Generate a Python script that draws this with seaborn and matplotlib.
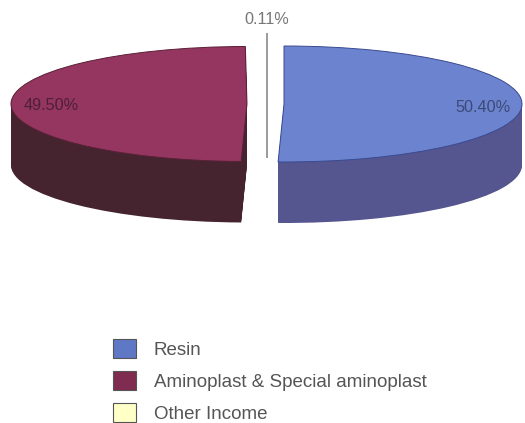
import matplotlib
matplotlib.use("Agg")
import matplotlib.pyplot as plt
from matplotlib.patches import Patch
import seaborn as sns

categories = ["Resin", "Aminoplast & Special aminoplast", "Other Income"]
shares = [50.40, 49.50, 0.11]
share_labels = ["50.40%", "49.50%", "0.11%"]
top_colors = ["#6c84cf", "#94365f"]
rim_colors = ["#3a4a90", "#5a2038"]
side_colors = ["#55558f", "#45242f"]
legend_colors = ["#5f78c6", "#7f2c50", "#ffffc8"]

sns.set_theme(style="white")
plt.rcParams["font.family"] = ["Liberation Sans", "DejaVu Sans"]

WIDTH, HEIGHT = 525, 423
SQUASH = 58 / 238         # vertical foreshortening of the tilted disc
DEPTH = 61                # wall height in pixels
CENTER_Y = 104
CENTERS_X = [284, 247]    # the two large slices are pulled apart
RADII = [238, 236]


def to_y(py):
    """Pixel row to the stretched data scale used by the disc."""
    return (HEIGHT - py) / SQUASH


fig = plt.figure(figsize=(WIDTH / 100, HEIGHT / 100), dpi=100)
ax = fig.add_axes([0, 0, 1, 1])

total = sum(shares)
start = 90.0
for value, cx, radius, top, rim, side in zip(
    shares[:2], CENTERS_X, RADII, top_colors, rim_colors, side_colors
):
    fraction = value / total
    # Wall: the slice repeated pixel by pixel downwards
    for d in range(DEPTH, 0, -1):
        ax.pie([fraction], normalize=False, colors=[side], startangle=start,
               counterclock=False, radius=radius, frame=True,
               center=(cx, to_y(CENTER_Y + d)), wedgeprops={"linewidth": 0})
    # Top face with a thin dark rim
    ax.pie([fraction], normalize=False, colors=[top], startangle=start,
           counterclock=False, radius=radius, frame=True,
           center=(cx, to_y(CENTER_Y)),
           wedgeprops={"linewidth": 0.7, "edgecolor": rim})
    start -= 360 * fraction

ax.set_aspect("auto")
ax.set_xlim(0, WIDTH)
ax.set_ylim(0, HEIGHT / SQUASH)
ax.axis("off")

# Leader line for the tiny third share
ax.plot([267, 267], [to_y(33), to_y(158)], color="#8a8a8a", lw=1.2, solid_capstyle="butt")

ax.text(483, to_y(108), share_labels[0], ha="center", va="center", fontsize=11.7, color="#3c4a78")
ax.text(51, to_y(105), share_labels[1], ha="center", va="center", fontsize=11.7, color="#4d2036")
ax.text(267, to_y(19), share_labels[2], ha="center", va="center", fontsize=11.7, color="#777777")

handles = [Patch(facecolor=c, edgecolor="#555555", linewidth=0.8) for c in legend_colors]
ax.legend(handles, categories, loc="upper left", bbox_to_anchor=(113 / WIDTH, 1 - 339 / HEIGHT),
          frameon=False, fontsize=13.5, labelcolor="#555555", handlelength=1.2, handleheight=1.15,
          handletextpad=0.98, labelspacing=0.66, borderaxespad=0, borderpad=0)

fig.savefig("out.png", dpi=100)
